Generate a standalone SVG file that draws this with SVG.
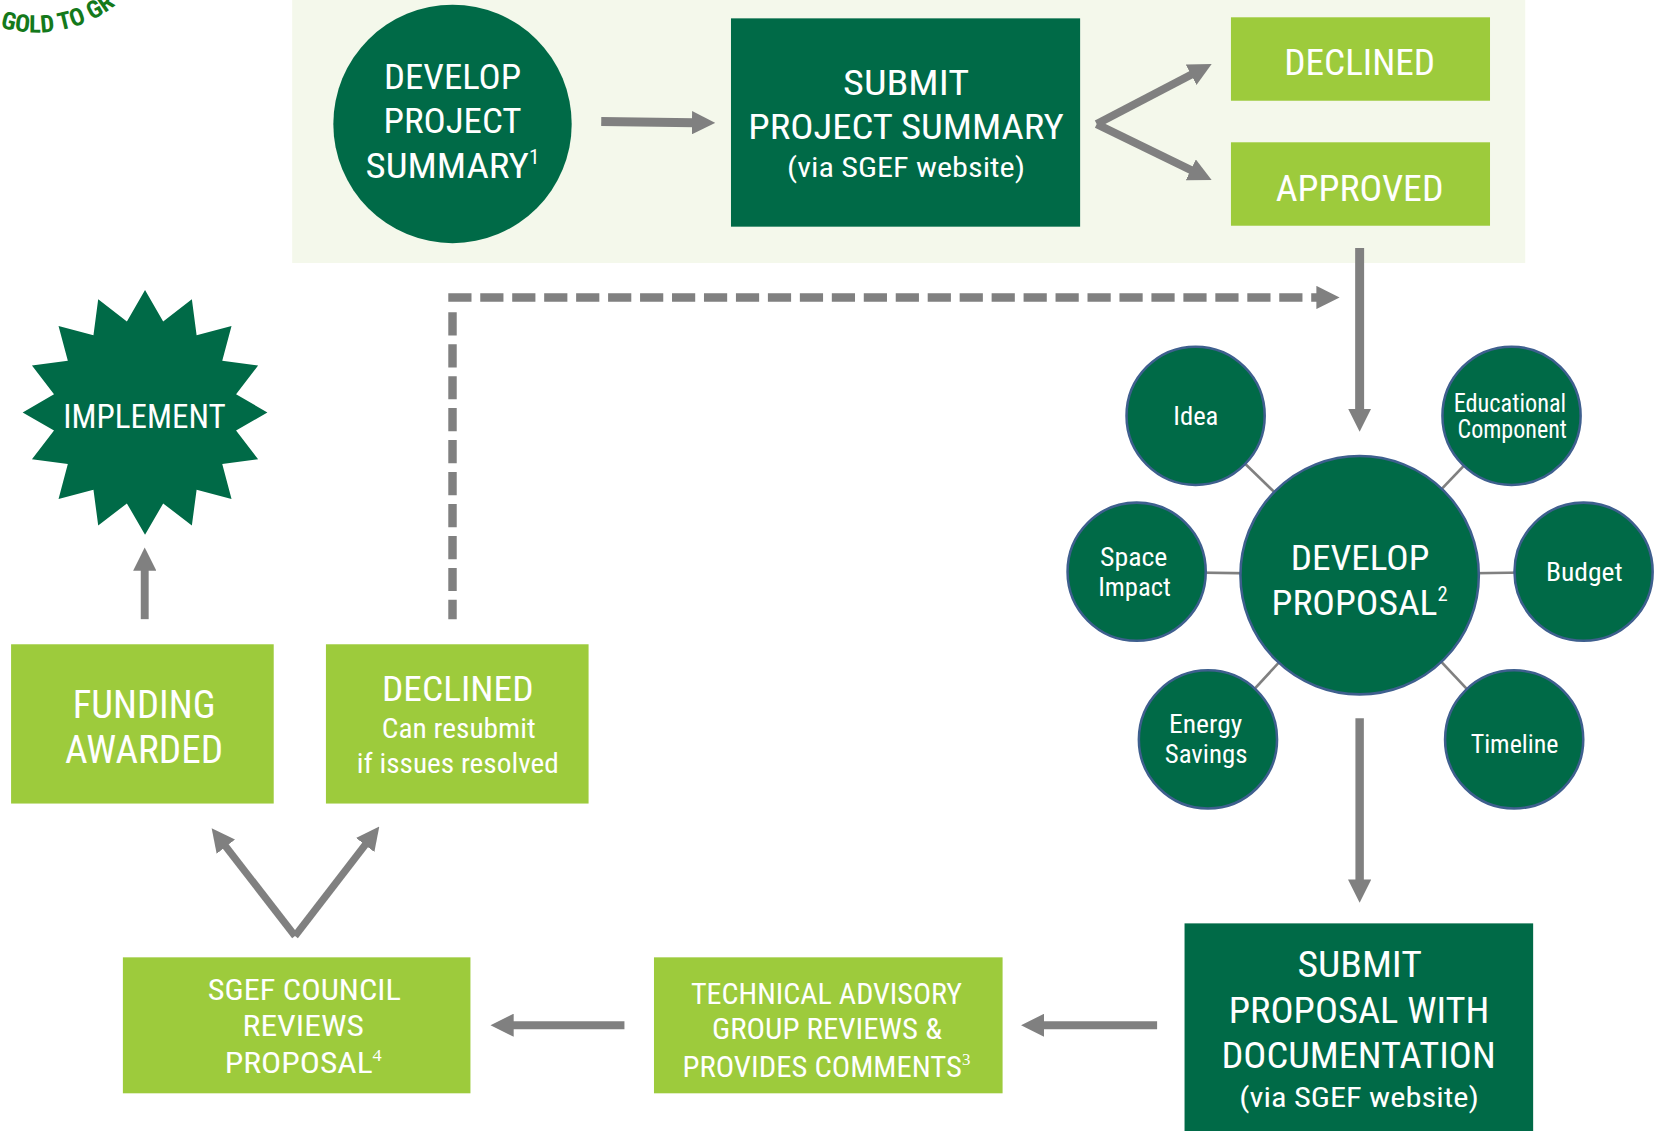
<svg xmlns="http://www.w3.org/2000/svg" width="1654" height="1131" viewBox="0 0 1654 1131">
<style>
.t{font-family:"Liberation Sans Narrow","Roboto Condensed","DejaVu Sans Condensed","Liberation Sans",sans-serif;fill:#fff;text-anchor:middle}
.sup{font-size:55%}
.ser{font-family:"Liberation Serif",serif}
.dk{fill:#006a47}
.lt{fill:#9dcb3c}
.sat{fill:#006a47;stroke:#3e5f8e;stroke-width:2.4}
.sp{stroke:#808080;stroke-width:2.5;fill:none}
.ar{stroke:#808080;stroke-width:8;fill:none;marker-end:url(#ah)}
.dash{stroke:#808080;stroke-width:8;fill:none;stroke-dasharray:22 8.3}
.logo{font-family:"Roboto Condensed","Liberation Sans Narrow","Liberation Sans",Arial,sans-serif;font-weight:bold;fill:#14791b;font-size:23px}
</style>
<defs>
<marker id="ah" markerUnits="userSpaceOnUse" markerWidth="22" markerHeight="22" viewBox="0 0 22 22" refX="2" refY="11" orient="auto"><path d="M0,0 L22,11 L0,22 Z" fill="#808080"/></marker>
<path id="logoArc" d="M -16.7 19.5 A 121.4 121.4 0 0 0 156 -90.5"/>
</defs>
<rect width="1654" height="1131" fill="#fff"/>
<g transform="scale(1.0548)">
<rect id="summary-panel" x="277" y="0" width="1169" height="249.3" fill="#f4f8eb"/>
<g id="logo"><text class="logo"><textPath href="#logoArc" startOffset="18" textLength="116" lengthAdjust="spacingAndGlyphs">GOLD TO GR</textPath></text></g>

<g id="connectors">
<line class="ar" style="stroke-width:8.5" x1="570" y1="115.2" x2="658" y2="116.3"/>
<line class="ar" style="stroke-width:7.6" x1="1039.7" y1="117.6" x2="1131" y2="69.9"/>
<line class="ar" style="stroke-width:7.6" x1="1039.7" y1="117.6" x2="1130.7" y2="161.9"/>
<line class="ar" style="stroke-width:8.5" x1="1289" y1="235" x2="1289" y2="389.3"/>
<line class="dash" style="marker-end:url(#ah)" x1="425" y1="282" x2="1250" y2="282"/>
<line class="dash" x1="429" y1="296" x2="429" y2="587"/>
<line class="ar" style="stroke-width:7.5" x1="137.2" y1="587" x2="137.2" y2="539"/>
<line class="ar" style="stroke-width:6.9" x1="279.7" y1="887.4" x2="212.9" y2="801.1"/>
<line class="ar" style="stroke-width:6.9" x1="279.7" y1="887.4" x2="347.4" y2="799.5"/>
<line class="ar" style="stroke-width:7.5" x1="592" y1="972" x2="485" y2="972"/>
<line class="ar" style="stroke-width:7.5" x1="1097" y1="972" x2="988" y2="972"/>
<line class="ar" x1="1289" y1="681" x2="1289" y2="835.8"/>
<line class="sp" x1="1289" y1="545" x2="1133.5" y2="394.2"/>
<line class="sp" x1="1289" y1="545" x2="1433" y2="394.2"/>
<line class="sp" x1="1289" y1="545" x2="1077.6" y2="542"/>
<line class="sp" x1="1289" y1="545" x2="1501.3" y2="542"/>
<line class="sp" x1="1289" y1="545" x2="1145.2" y2="701"/>
<line class="sp" x1="1289" y1="545" x2="1435.5" y2="701"/>
</g>

<g id="develop-summary">
<circle class="dk" cx="429" cy="117.5" r="113"/>
<text class="t" font-size="33.5" x="429" y="84.7" textLength="130" lengthAdjust="spacingAndGlyphs">DEVELOP</text>
<text class="t" font-size="33.5" x="429" y="126.4" textLength="131" lengthAdjust="spacingAndGlyphs">PROJECT</text>
<text class="t" font-size="33.5" x="429" y="168.7" textLength="165" lengthAdjust="spacingAndGlyphs">SUMMARY<tspan class="sup" dy="-13">1</tspan></text>
</g>

<g id="submit-summary">
<rect class="dk" x="693" y="17.4" width="331" height="197.5"/>
<text class="t" font-size="34" x="859" y="90" textLength="119.5" lengthAdjust="spacingAndGlyphs">SUBMIT</text>
<text class="t" font-size="34" x="859" y="131.8" textLength="299" lengthAdjust="spacingAndGlyphs">PROJECT SUMMARY</text>
<text class="t" font-size="26" x="859" y="167.5" textLength="225.6" lengthAdjust="spacingAndGlyphs">(via SGEF website)</text>
</g>

<g id="declined-top">
<rect class="lt" x="1167" y="16.4" width="245.6" height="79.1"/>
<text class="t" font-size="35" x="1289" y="71.1" textLength="143" lengthAdjust="spacingAndGlyphs">DECLINED</text>
</g>

<g id="approved">
<rect class="lt" x="1167" y="134.9" width="245.6" height="79.1"/>
<text class="t" font-size="35" x="1289" y="190.6" textLength="159" lengthAdjust="spacingAndGlyphs">APPROVED</text>
</g>

<g id="develop-proposal">
<circle class="sat" cx="1289" cy="545.3" r="113"/>
<text class="t" font-size="33.5" x="1289.4" y="540.4" textLength="131.4" lengthAdjust="spacingAndGlyphs">DEVELOP</text>
<text class="t" font-size="33.5" x="1289" y="583" textLength="167" lengthAdjust="spacingAndGlyphs">PROPOSAL<tspan class="sup" dy="-13">2</tspan></text>
</g>

<g id="idea">
<circle class="sat" cx="1133.5" cy="394.2" r="65.5"/>
<text class="t" font-size="25" x="1133.7" y="403" textLength="42.7" lengthAdjust="spacingAndGlyphs">Idea</text>
</g>
<g id="educational">
<circle class="sat" cx="1433" cy="394.2" r="65.5"/>
<text class="t" font-size="25" x="1431.5" y="390.3" textLength="106.6" lengthAdjust="spacingAndGlyphs">Educational</text>
<text class="t" font-size="25" x="1433.7" y="415.6" textLength="103.7" lengthAdjust="spacingAndGlyphs">Component</text>
</g>
<g id="space-impact">
<circle class="sat" cx="1077.6" cy="542" r="65.5"/>
<text class="t" font-size="25" x="1074.8" y="536.6" textLength="63.9" lengthAdjust="spacingAndGlyphs">Space</text>
<text class="t" font-size="25" x="1075.6" y="564.7" textLength="69" lengthAdjust="spacingAndGlyphs">Impact</text>
</g>
<g id="budget">
<circle class="sat" cx="1501.3" cy="542" r="65.5"/>
<text class="t" font-size="25" x="1502" y="550.5" textLength="72.7" lengthAdjust="spacingAndGlyphs">Budget</text>
</g>
<g id="energy-savings">
<circle class="sat" cx="1145.2" cy="701" r="65.5"/>
<text class="t" font-size="25" x="1143" y="695.2" textLength="69.4" lengthAdjust="spacingAndGlyphs">Energy</text>
<text class="t" font-size="25" x="1143.5" y="723.7" textLength="78.5" lengthAdjust="spacingAndGlyphs">Savings</text>
</g>
<g id="timeline">
<circle class="sat" cx="1435.5" cy="701" r="65.5"/>
<text class="t" font-size="25" x="1435.9" y="713.6" textLength="83.3" lengthAdjust="spacingAndGlyphs">Timeline</text>
</g>

<g id="implement">
<polygon class="dk" points="137.5,275 154.7,304.7 181.9,283.8 186.4,317.8 219.5,309 210.7,342.1 244.7,346.6 223.8,373.8 253.5,391 223.8,408.2 244.7,435.4 210.7,439.9 219.5,473 186.4,464.2 181.9,498.2 154.7,477.3 137.5,507 120.3,477.3 93.1,498.2 88.6,464.2 55.5,473 64.3,439.9 30.3,435.4 51.2,408.2 21.5,391 51.2,373.8 30.3,346.6 64.3,342.1 55.5,309 88.6,317.8 93.1,283.8 120.3,304.7"/>
<text class="t" font-size="31" x="137" y="405.7" textLength="154" lengthAdjust="spacingAndGlyphs">IMPLEMENT</text>
</g>

<g id="funding-awarded">
<rect class="lt" x="10.5" y="610.8" width="249" height="151"/>
<text class="t" font-size="36" x="136.6" y="680.9" textLength="135.4" lengthAdjust="spacingAndGlyphs">FUNDING</text>
<text class="t" font-size="36" x="136.6" y="723.3" textLength="149.9" lengthAdjust="spacingAndGlyphs">AWARDED</text>
</g>

<g id="declined-bottom">
<rect class="lt" x="309" y="610.8" width="249" height="151"/>
<text class="t" font-size="33" x="434" y="664.6" textLength="143.7" lengthAdjust="spacingAndGlyphs">DECLINED</text>
<text class="t" font-size="26" x="434.9" y="699.6" textLength="146" lengthAdjust="spacingAndGlyphs">Can resubmit</text>
<text class="t" font-size="26" x="434" y="732.4" textLength="191.5" lengthAdjust="spacingAndGlyphs">if issues resolved</text>
</g>

<g id="council-reviews">
<rect class="lt" x="116.5" y="907.6" width="329.5" height="128.9"/>
<text class="t" font-size="28.5" x="288.5" y="948" textLength="183" lengthAdjust="spacingAndGlyphs">SGEF COUNCIL</text>
<text class="t" font-size="28.5" x="287.5" y="982.2" textLength="115" lengthAdjust="spacingAndGlyphs">REVIEWS</text>
<text class="t" font-size="28.5" x="287.5" y="1017" textLength="149" lengthAdjust="spacingAndGlyphs">PROPOSAL<tspan class="sup ser" dy="-11">4</tspan></text>
</g>

<g id="technical-advisory">
<rect class="lt" x="620" y="907.6" width="330.5" height="128.9"/>
<text class="t" font-size="28" x="783.5" y="951.8" textLength="257" lengthAdjust="spacingAndGlyphs">TECHNICAL ADVISORY</text>
<text class="t" font-size="28" x="784" y="985.3" textLength="218" lengthAdjust="spacingAndGlyphs">GROUP REVIEWS &amp;</text>
<text class="t" font-size="28" x="783.5" y="1020.7" textLength="273" lengthAdjust="spacingAndGlyphs">PROVIDES COMMENTS<tspan class="sup ser" dy="-11">3</tspan></text>
</g>

<g id="submit-proposal">
<rect class="dk" x="1123" y="875.4" width="330.5" height="200"/>
<text class="t" font-size="35" x="1289" y="926.6" textLength="118" lengthAdjust="spacingAndGlyphs">SUBMIT</text>
<text class="t" font-size="35" x="1288.5" y="969.5" textLength="247" lengthAdjust="spacingAndGlyphs">PROPOSAL WITH</text>
<text class="t" font-size="35" x="1288" y="1012.8" textLength="260" lengthAdjust="spacingAndGlyphs">DOCUMENTATION</text>
<text class="t" font-size="26" x="1288.5" y="1049.2" textLength="227" lengthAdjust="spacingAndGlyphs">(via SGEF website)</text>
</g>
</g>
</svg>
